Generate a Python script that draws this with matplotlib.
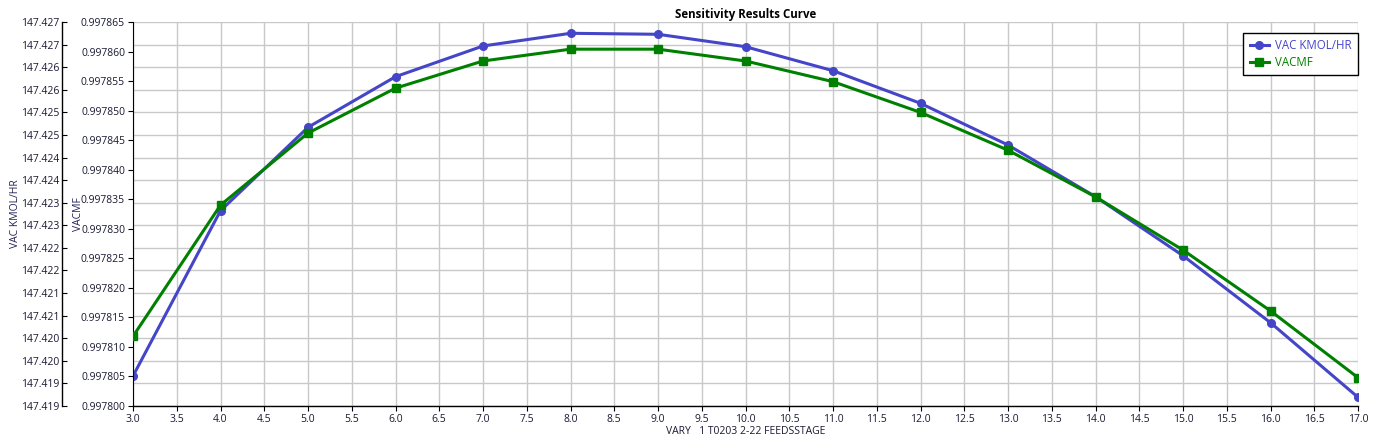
import matplotlib
matplotlib.use("Agg")
import matplotlib.pyplot as plt
from matplotlib.ticker import FormatStrFormatter, MultipleLocator

# Data
feed_stage = [3, 4, 5, 6, 7, 8, 9, 10, 11, 12, 13, 14, 15, 16, 17]
vac_kmol_hr = [147.419464, 147.423123, 147.424969, 147.426089, 147.426769,
               147.427050, 147.427028, 147.426753, 147.426222, 147.425500,
               147.424577, 147.423433, 147.422127, 147.420644, 147.418993]
vacmf = [0.9978118, 0.9978340, 0.9978462, 0.9978538, 0.9978584,
         0.9978604, 0.9978604, 0.9978584, 0.9978549, 0.9978497,
         0.9978433, 0.9978354, 0.9978264, 0.9978161, 0.9978048]

vac_ticks = [147.4188 + 0.0005 * k for k in range(18)]
vacmf_ticks = [0.997800 + 0.000005 * k for k in range(14)]

title = "Sensitivity Results Curve"
xlabel = "VARY   1 T0203 2-22 FEEDSSTAGE"
name_vac = "VAC KMOL/HR"
name_mf = "VACMF"

blue = "#4545C8"
green = "#008000"
txt = "#1a1a33"
fs = 7.5
PX = 72 / 100  # points per pixel

plt.rcParams['font.family'] = ['Open Sans', 'DejaVu Sans']

fig = plt.figure(figsize=(13.74, 4.47), dpi=100)
ax = fig.add_axes([133/1374, 41/447, 1225/1374, 384/447])
ax2 = ax.twinx()

# VAC on main axes (outer spine)
ax.plot(feed_stage, vac_kmol_hr, color=blue, lw=2.2, marker='o', ms=5.5,
        label=name_vac, zorder=3)
ax.set_ylim(vac_ticks[0], vac_ticks[-1])
ax.set_yticks(vac_ticks)
ax.yaxis.set_major_formatter(FormatStrFormatter('%.3f'))
ax.spines['left'].set_position(('outward', 71 * PX))
ax.spines['right'].set_visible(False)
ax.spines['top'].set_visible(False)
ax.tick_params(axis='y', direction='in', length=5 * PX, labelsize=fs,
               colors='black', labelcolor=txt, pad=3 * PX)

# VACMF on twin axes (inner spine)
ax2.plot(feed_stage, vacmf, color=green, lw=2.2, marker='s', ms=5.5,
         label=name_mf, zorder=3)
ax2.set_ylim(vacmf_ticks[0], vacmf_ticks[-1])
ax2.set_yticks(vacmf_ticks)
ax2.yaxis.set_major_formatter(FormatStrFormatter('%.6f'))
ax2.yaxis.set_ticks_position('left')
ax2.yaxis.set_label_position('left')
ax2.spines['left'].set_position(('axes', 0))
ax2.spines['right'].set_visible(False)
ax2.spines['top'].set_visible(False)
ax2.spines['bottom'].set_visible(False)
ax2.tick_params(axis='y', direction='out', length=5 * PX, labelsize=fs,
                colors='black', labelcolor=txt, pad=3 * PX)

# X axis
ax.set_xlim(3, 17)
ax.xaxis.set_major_locator(MultipleLocator(0.5))
ax.xaxis.set_major_formatter(FormatStrFormatter('%.1f'))
ax.tick_params(axis='x', direction='out', length=5 * PX, labelsize=fs,
               colors='black', labelcolor=txt, pad=2)

ax.grid(True, color='#c8c8c8', lw=1.0)
ax.set_axisbelow(True)
for s in ['left', 'bottom']:
    ax.spines[s].set_color('black')
    ax.spines[s].set_linewidth(1.0)
ax2.spines['left'].set_color('black')

ax.set_xlabel(xlabel, fontsize=fs, color=txt, labelpad=1)
ax.set_ylabel(name_vac, fontsize=fs, color='#222255', labelpad=0)
ax2.set_ylabel(name_mf, fontsize=fs, color='#222255', labelpad=-2)
ax.set_title(title, fontsize=8.3, fontweight='bold', color='black', pad=3)

h1, l1 = ax.get_legend_handles_labels()
h2, l2 = ax2.get_legend_handles_labels()
leg = ax2.legend(h1 + h2, l1 + l2, loc='upper right',
                 bbox_to_anchor=(1.0, 0.971),
                 fontsize=8.3, frameon=True,
                 fancybox=False, edgecolor='black', framealpha=1,
                 handlelength=1.7, borderpad=0.55, labelspacing=0.3,
                 handletextpad=0.5, borderaxespad=0)
leg.get_frame().set_linewidth(1.0)
leg.get_texts()[0].set_color(blue)
leg.get_texts()[1].set_color(green)

fig.savefig("out.png", dpi=100)
